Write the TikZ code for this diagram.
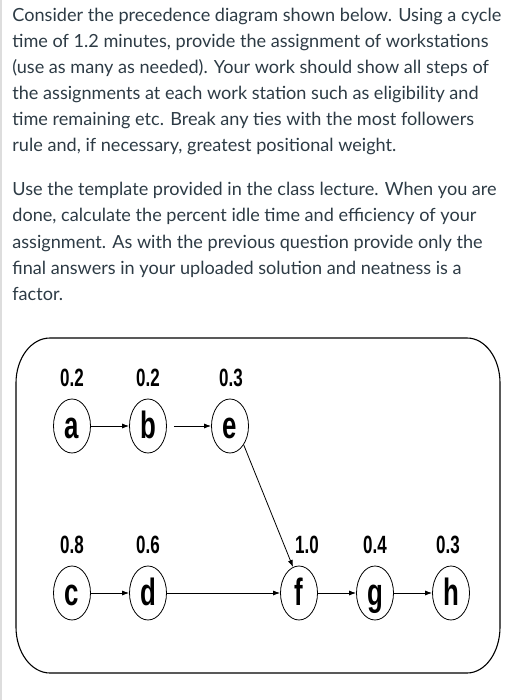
\documentclass[tikz,border=0pt]{standalone}
\usepackage{fontspec}
\setmainfont{Lato}
\newfontfamily\diagfont[FakeStretch=0.68]{Liberation Sans}
\usepackage{tikz}
\usetikzlibrary{arrows.meta,shapes.geometric}
\definecolor{canvastext}{RGB}{45,59,69}
\tikzset{every picture/.style={line width=0.8pt}}
\tikzset{
  para/.style={anchor=base west,inner sep=0pt,text=canvastext,font=\fontsize{18.1}{21}\selectfont},
  task/.style={draw,ellipse,minimum width=37pt,minimum height=54pt,inner sep=0pt},
  tasklbl/.style={anchor=base,inner sep=0pt,font=\diagfont\bfseries\fontsize{38}{40}\selectfont},
  tasktime/.style={anchor=base,inner sep=0pt,font=\diagfont\bfseries\fontsize{25}{27}\selectfont},
  prec/.style={-{Latex[length=7pt,width=5pt]}}
}

\begin{document}
\begin{tikzpicture}[x=1pt,y=1pt,yscale=-1,xscale=1]
\useasboundingbox (0,0) rectangle (509,700);
%page edge
\draw [color={rgb, 255:red, 221; green, 221; blue, 221 }, line width=1.2pt] (1,0) -- (1,700);

% Text Node
\node[para] (q1) at (12,21.5) {Consider the precedence diagram shown below. Using a cycle};
\node[para] (q2) at (12,47.5) {time of 1.2 minutes, provide the assignment of workstations};
\node[para] (q3) at (12,73.5) {(use as many as needed). Your work should show all steps of};
\node[para] (q4) at (12,99.5) {the assignments at each work station such as eligibility and};
\node[para] (q5) at (12,125.5) {time remaining etc. Break any ties with the most followers};
\node[para] (q6) at (12,151.5) {rule and, if necessary, greatest positional weight.};
% Text Node
\node[para] (p1) at (12,196) {Use the template provided in the class lecture. When you are};
\node[para] (p2) at (12,222) {done, calculate the percent idle time and efficiency of your};
\node[para] (p3) at (12,248) {assignment. As with the previous question provide only the};
\node[para] (p4) at (12,274) {final answers in your uploaded solution and neatness is a};
\node[para] (p5) at (12,300) {factor.};

%Shape: Rounded Rectangle
\draw [line width=1.1pt] (50,338) -- (467,338) arc[start angle=90,end angle=0,x radius=33,y radius=-45]
  -- (500,627) arc[start angle=0,end angle=-90,x radius=33,y radius=-46]
  -- (50,673) arc[start angle=270,end angle=180,x radius=34,y radius=-46]
  -- (16,383) arc[start angle=180,end angle=90,x radius=34,y radius=-45] -- cycle;

%Shape: Ellipse
\node[task] (a) at (72,426) {};
\node[task] (b) at (148,426) {};
\node[task] (e) at (230,426) {};
\node[task] (c) at (72,593) {};
\node[task] (d) at (148,593) {};
\node[task] (f) at (299,593) {};
\node[task] (g) at (375,593) {};
\node[task] (h) at (451,593) {};

% Text Node
\node[tasklbl] (la) at (72,438) {a};
\node[tasklbl] (lb) at (148,438) {b};
\node[tasklbl] (le) at (230,438) {e};
\node[tasklbl] (lc) at (72,605) {c};
\node[tasklbl] (ld) at (148,605) {d};
\node[tasklbl] (lf) at (299,605) {f};
\node[tasklbl] (lg) at (375,605) {g};
\node[tasklbl] (lh) at (451,605) {h};

% Text Node
\node[tasktime] (ta) at (72,386.5) {0.2};
\node[tasktime] (tb) at (148,386.5) {0.2};
\node[tasktime] (te) at (231,386.5) {0.3};
\node[tasktime] (tc) at (72,553) {0.8};
\node[tasktime] (td) at (148,553) {0.6};
\node[tasktime] (tf) at (307,553) {1.0};
\node[tasktime] (tg) at (375,553) {0.4};
\node[tasktime] (th) at (448,553) {0.3};

%Straight Lines
\draw [prec] (a) -- (b);
\draw [prec, shorten <=7pt] (b) -- (e);
\draw [prec] (e.-54) -- (f.103);
\draw [prec] (c) -- (d);
\draw [prec] (d) -- (f);
\draw [prec] (f) -- (g);
\draw [prec] (g) -- (h);

\end{tikzpicture}
\end{document}
